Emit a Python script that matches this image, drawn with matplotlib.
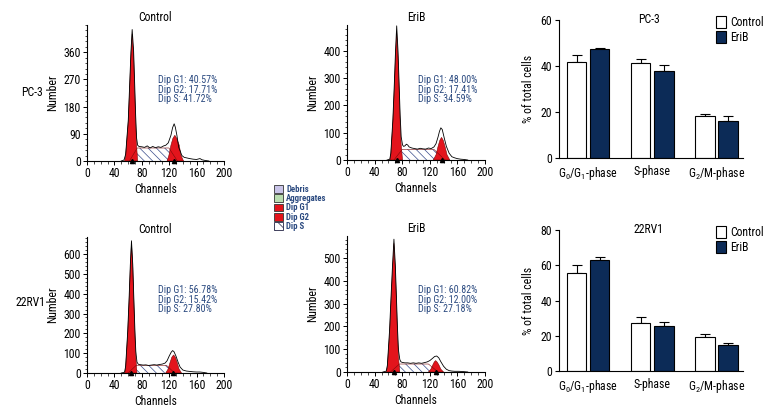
import matplotlib
matplotlib.use("Agg")
import matplotlib.pyplot as plt
from matplotlib import font_manager as fm
from matplotlib.patches import Patch
from matplotlib.ticker import AutoMinorLocator, MultipleLocator

# pick a narrow font if one is installed
_names = {(f.name, f.stretch) for f in fm.fontManager.ttflist}
_family, _stretch = 'DejaVu Sans', 'normal'
if any(n == 'Liberation Sans Narrow' for n, s in _names):
    _family = 'Liberation Sans Narrow'
else:
    for fam in ['Roboto Condensed', 'Open Sans Condensed', 'Noto Sans Condensed']:
        if any(n == fam for n, s in _names):
            _family = fam
            break
    else:
        for fam in ['Noto Sans', 'Open Sans', 'Roboto', 'DejaVu Sans']:
            if (fam, 'condensed') in _names or (fam, 'semi-condensed') in _names:
                _family = fam
                _stretch = 'condensed' if (fam, 'condensed') in _names else 'semi-condensed'
                break
plt.rcParams['font.family'] = [_family, 'DejaVu Sans']
plt.rcParams['font.stretch'] = _stretch
plt.rcParams['mathtext.fontset'] = 'custom'
plt.rcParams['mathtext.rm'] = _family
plt.rcParams['mathtext.it'] = _family
plt.rcParams['hatch.linewidth'] = 0.5

# ---------------- data: flow cytometry histograms ----------------
# PC-3 Control
pc3c_g1_ch = [55, 56.5, 60.3, 62.3, 64.2, 66, 68.1, 69.6, 71.1, 72.5, 74]
pc3c_g1_ct = [0, 19, 129, 239, 349, 420, 349, 239, 129, 50, 0]
pc3c_g2_ch = [117, 119.7, 122.6, 125.5, 128.3, 131, 134.8, 137.2, 141]
pc3c_g2_ct = [0, 19, 52, 75, 85, 75, 52, 19, 0]
pc3c_s_ch = [62, 73.4, 119.7, 132]
pc3c_s_ct = [0, 43, 43, 0]
pc3c_out_ch = [50, 54, 56.5, 60.3, 62.3, 64.2, 66, 68.1, 69.6, 71.1, 72.5, 74, 76, 80, 84, 88, 92, 96,
               100, 104, 108, 112, 115, 118.7, 122.6, 125, 127.3, 129, 131.3, 134, 138.6, 142, 146,
               150, 155, 160, 165, 168, 172, 178]
pc3c_out_ct = [0, 3, 22, 135, 250, 360, 435, 365, 260, 150, 75, 52, 48, 47, 45, 50, 43, 48, 44, 47,
               45, 50, 52, 60, 85, 110, 123, 112, 85, 45, 18, 12, 10, 8, 6, 5, 8, 4, 2, 0]
pc3c_pct = ["40.57%", "17.71%", "41.72%"]

# PC-3 EriB
pc3e_g1_ch = [62, 63.5, 66.5, 68.5, 70.3, 72, 73.9, 75.5, 77, 78.5, 80.5]
pc3e_g1_ct = [0, 20, 140, 260, 380, 470, 380, 260, 140, 55, 0]
pc3e_g2_ch = [125, 129, 132, 134.5, 137, 139.5, 142, 145, 149]
pc3e_g2_ct = [0, 19, 50, 72, 83, 72, 50, 19, 0]
pc3e_s_ch = [68, 80, 126, 142]
pc3e_s_ct = [0, 39, 39, 0]
pc3e_out_ch = [58, 62, 63.5, 66.5, 68.5, 70.3, 72, 73.9, 75.5, 77, 78.5, 80.5, 82, 84, 86, 88, 90,
               94, 98, 102, 106, 110, 114, 118, 122, 126, 129, 132, 134, 136, 138, 141, 144, 148,
               152, 156, 160, 165, 170, 175]
pc3e_out_ct = [0, 3, 25, 150, 275, 400, 492, 400, 280, 165, 85, 55, 50, 52, 58, 55, 48, 44, 42, 40,
               43, 41, 40, 44, 42, 48, 60, 85, 105, 118, 112, 80, 50, 25, 12, 8, 5, 3, 2, 0]
pc3e_pct = ["48.00%", "17.41%", "34.59%"]

# 22RV1 Control
rvc_g1_ch = [55, 56.5, 59.5, 61.5, 63.3, 65, 66.9, 68.4, 69.9, 71.3, 73]
rvc_g1_ct = [0, 30, 200, 360, 530, 657, 530, 360, 200, 80, 0]
rvc_g2_ch = [115, 118.5, 121.5, 124, 126.5, 129, 131.5, 134.5, 138]
rvc_g2_ct = [0, 20, 55, 80, 91, 80, 55, 20, 0]
rvc_s_ch = [60, 72, 116, 128]
rvc_s_ct = [0, 39, 39, 0]
rvc_out_ch = [50, 54, 55, 56.5, 59.5, 61.5, 63.3, 65, 66.9, 68.4, 69.9, 71.3, 73, 75, 78, 82, 86, 90,
              94, 98, 102, 106, 110, 114, 117, 120, 123, 125, 127, 130, 133, 136, 140, 145, 150, 155,
              160, 165, 170, 175]
rvc_out_ct = [0, 3, 5, 35, 210, 375, 545, 667, 545, 380, 225, 110, 55, 44, 42, 40, 41, 38, 40, 42,
              40, 43, 45, 50, 62, 85, 105, 113, 108, 85, 55, 30, 15, 10, 8, 6, 5, 5, 3, 0]
rvc_pct = ["56.78%", "15.42%", "27.80%"]

# 22RV1 EriB
rve_g1_ch = [57, 58.5, 61.7, 63.8, 66, 68, 70, 71.6, 73.1, 74.6, 76.5]
rve_g1_ct = [0, 25, 170, 310, 450, 564, 450, 310, 170, 65, 0]
rve_g2_ch = [118, 121.5, 124.5, 126.5, 128.5, 130.5, 133, 136, 140]
rve_g2_ct = [0, 12, 32, 44, 50, 44, 32, 12, 0]
rve_s_ch = [63, 76, 118, 132]
rve_s_ct = [0, 35, 35, 0]
rve_out_ch = [52, 56, 57, 58.5, 61.7, 63.8, 66, 68, 70, 71.6, 73.1, 74.6, 76.5, 78, 80, 84, 88, 92,
              96, 100, 104, 108, 112, 116, 120, 124, 127, 130, 133, 136, 140, 144, 148, 152, 156,
              162, 168, 175]
rve_out_ct = [0, 3, 5, 30, 185, 330, 470, 582, 470, 330, 195, 95, 55, 45, 42, 40, 40, 38, 40, 38,
              40, 38, 41, 44, 50, 60, 68, 70, 62, 45, 25, 12, 6, 4, 3, 3, 2, 0]
rve_pct = ["60.82%", "12.00%", "27.18%"]

# G1 / G2 peak markers (channels)
pc3c_marks = [66, 127]
pc3e_marks = [72, 137]
rvc_marks = [65, 126]
rve_marks = [68, 129]

x_ticks = [0, 40, 80, 120, 160, 200]
pc3c_yticks = [0, 90, 180, 270, 360]
pc3e_yticks = [0, 100, 200, 300, 400]
rvc_yticks = [0, 100, 200, 300, 400, 500, 600]
rve_yticks = [0, 100, 200, 300, 400, 500]

# ---------------- data: bar charts ----------------
phases = [r"G$_0$/G$_1$-phase", "S-phase", r"G$_2$/M-phase"]
pc3_ctrl = [41.6, 41.4, 18.1]
pc3_ctrl_err = [3.3, 1.8, 1.2]
pc3_erib = [47.2, 38.0, 16.3]
pc3_erib_err = [0.6, 2.6, 1.8]
rv_ctrl = [55.7, 27.4, 19.2]
rv_ctrl_err = [4.3, 3.2, 2.1]
rv_erib = [62.8, 25.5, 14.9]
rv_erib_err = [2.1, 2.4, 1.1]
pc3_bar_yticks = [0, 20, 40, 60]
rv_bar_yticks = [0, 20, 40, 60, 80]

RED = '#e3141c'
DKRED = '#7a0a0a'
NAVY = '#0c2b57'
TXT = '#2b4a80'
HATCHC = '#3a4c8c'
plt.rcParams['hatch.color'] = HATCHC

fig = plt.figure(figsize=(7.8, 4.2), dpi=100)


def hist_panel(rect, ylim, yticks, title, g1c, g1n, g2c, g2n, sc, sn, oc, on, marks, pct, txt_y):
    ax = fig.add_axes(rect)
    ax.fill(sc, sn, facecolor='white', edgecolor=HATCHC, hatch='\\\\\\\\', lw=0.0, zorder=1)
    ax.fill(g1c, g1n, facecolor=RED, edgecolor=DKRED, lw=0.4, zorder=2)
    ax.fill(g2c, g2n, facecolor=RED, edgecolor=DKRED, lw=0.4, zorder=2)
    ax.plot(sc, sn, color=DKRED, lw=0.4, zorder=3)
    ax.plot(oc, on, color='black', lw=0.6, zorder=4)
    ax.plot(marks, [0] * len(marks), marker='^', ls='none', color='black', ms=3, clip_on=False, zorder=5)
    ax.set_xlim(0, 200)
    ax.set_ylim(0, ylim)
    ax.set_xticks(x_ticks)
    ax.set_yticks(yticks)
    ax.xaxis.set_minor_locator(MultipleLocator(10))
    ax.yaxis.set_minor_locator(AutoMinorLocator(5))
    ax.tick_params(which='major', length=3, width=0.7, labelsize=8.5, pad=1.5)
    ax.tick_params(which='minor', length=1.8, width=0.5)
    for s in ['top', 'right']:
        ax.spines[s].set_visible(False)
    for s in ['left', 'bottom']:
        ax.spines[s].set_linewidth(0.8)
    ax.set_xlabel('Channels', fontsize=8.5, labelpad=2)
    ax.set_ylabel('Number', fontsize=8.5, labelpad=3)
    ax.set_title(title, fontsize=8.5, pad=3)
    labels = ["Dip G1: ", "Dip G2: ", "Dip S: "]
    for i, (lab, p) in enumerate(zip(labels, pct)):
        ax.text(0.515, txt_y - i * 0.07, lab + p, transform=ax.transAxes, fontsize=7.2,
                color=TXT, va='center', ha='left')
    return ax


hist_panel([0.1115, 0.6167, 0.1756, 0.3238], 450, pc3c_yticks, 'Control',
           pc3c_g1_ch, pc3c_g1_ct, pc3c_g2_ch, pc3c_g2_ct, pc3c_s_ch, pc3c_s_ct,
           pc3c_out_ch, pc3c_out_ct, pc3c_marks, pc3c_pct, 0.595)
hist_panel([0.4449, 0.619, 0.1769, 0.3214], 495, pc3e_yticks, 'EriB',
           pc3e_g1_ch, pc3e_g1_ct, pc3e_g2_ch, pc3e_g2_ct, pc3e_s_ch, pc3e_s_ct,
           pc3e_out_ch, pc3e_out_ct, pc3e_marks, pc3e_pct, 0.59)
hist_panel([0.1115, 0.1119, 0.1756, 0.3238], 686, rvc_yticks, 'Control',
           rvc_g1_ch, rvc_g1_ct, rvc_g2_ch, rvc_g2_ct, rvc_s_ch, rvc_s_ct,
           rvc_out_ch, rvc_out_ct, rvc_marks, rvc_pct, 0.61)
hist_panel([0.4449, 0.1143, 0.1769, 0.3238], 596, rve_yticks, 'EriB',
           rve_g1_ch, rve_g1_ct, rve_g2_ch, rve_g2_ct, rve_s_ch, rve_s_ct,
           rve_out_ch, rve_out_ct, rve_marks, rve_pct, 0.60)

fig.text(32 / 780, 1 - 92 / 420, 'PC-3', fontsize=8.5, ha='center', va='center')
fig.text(30 / 780, 1 - 303 / 420, '22RV1', fontsize=8.5, ha='center', va='center')

# middle legend
leg_handles = [
    Patch(facecolor='#c9c4e8', edgecolor='#333333', lw=0.6, label='Debris'),
    Patch(facecolor='#b9ddb0', edgecolor='#333333', lw=0.6, label='Aggregates'),
    Patch(facecolor=RED, edgecolor='#333333', lw=0.6, label='Dip G1'),
    Patch(facecolor=RED, edgecolor='#333333', lw=0.6, label='Dip G2'),
    Patch(facecolor='white', edgecolor='#222244', lw=0.6, hatch='\\\\\\', label='Dip S'),
]
leg = fig.legend(handles=leg_handles, loc='upper left', bbox_to_anchor=(268 / 780, 1 - 179 / 420),
                 frameon=False, prop={'size': 6.3, 'weight': 'bold'}, handlelength=1.0,
                 handleheight=1.0, labelspacing=0.02, handletextpad=0.4, borderpad=0.2)
for t in leg.get_texts():
    t.set_color(TXT)


def bar_panel(rect, ctrl, ctrl_err, erib, erib_err, yticks, title):
    ax = fig.add_axes(rect)
    xs = list(range(len(phases)))
    off = 0.18
    w = 0.31
    xc = [x - off for x in xs]
    xe = [x + off for x in xs]
    ax.errorbar(xc, ctrl, yerr=[[0] * 3, ctrl_err], fmt='none', ecolor='black', elinewidth=0.8,
                capsize=3.5, capthick=0.8, zorder=1)
    ax.errorbar(xe, erib, yerr=[[0] * 3, erib_err], fmt='none', ecolor='black', elinewidth=0.8,
                capsize=3.5, capthick=0.8, zorder=1)
    ax.bar(xc, ctrl, width=w, color='white', edgecolor='black', lw=0.8, zorder=2, label='Control')
    ax.bar(xe, erib, width=w, color=NAVY, edgecolor='black', lw=0.8, zorder=2, label='EriB')
    ax.set_xlim(-0.453, 2.42)
    ax.set_ylim(0, yticks[-1])
    ax.set_yticks(yticks)
    ax.set_xticks(xs)
    ax.set_xticklabels(phases)
    ax.tick_params(axis='x', length=0, labelsize=8.5, pad=5)
    ax.tick_params(axis='y', length=3, width=0.8, labelsize=8.5, pad=2)
    for s in ['top', 'right']:
        ax.spines[s].set_visible(False)
    for s in ['left', 'bottom']:
        ax.spines[s].set_linewidth(0.8)
    ax.set_ylabel('% of total cells', fontsize=8.5, labelpad=4)
    ax.text(0.95, yticks[-1], title, fontsize=8.5, ha='center', va='center')
    ax.legend(loc='upper right', bbox_to_anchor=(1.15, 1.08), frameon=False, fontsize=8.5,
              handlelength=0.9, handleheight=1.2, labelspacing=0.15, handletextpad=0.3,
              borderpad=0.1)
    return ax


bar_panel([0.7167, 0.6238, 0.2359, 0.3286], pc3_ctrl, pc3_ctrl_err, pc3_erib, pc3_erib_err,
          pc3_bar_yticks, 'PC-3')
bar_panel([0.7167, 0.116, 0.2359, 0.3364], rv_ctrl, rv_ctrl_err, rv_erib, rv_erib_err,
          rv_bar_yticks, '22RV1')

fig.savefig('out.png', dpi=100)
